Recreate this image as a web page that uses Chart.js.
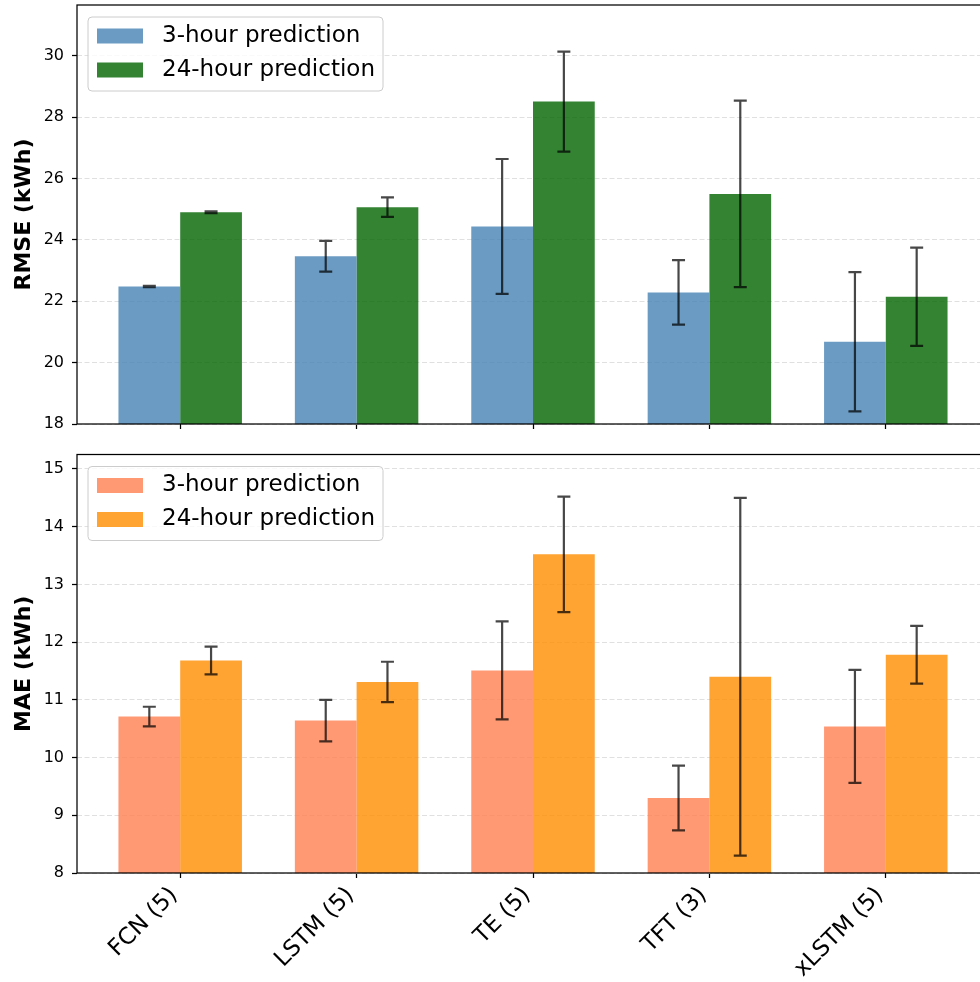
<!DOCTYPE html>
<html>
<head>
<meta charset="utf-8">
<script src="https://cdn.jsdelivr.net/npm/chart.js@4.4.0/dist/chart.umd.min.js"></script>
<style>
html, body { margin: 0; padding: 0; background: #fff; overflow: hidden; }
#wrap { position: relative; width: 1000px; height: 982px; }
canvas { position: absolute; left: 0; }
#rmseChart { top: 0; }
#maeChart { top: 440px; }
</style>
</head>
<body>
<div id="wrap">
<canvas id="rmseChart" width="1000" height="440"></canvas>
<canvas id="maeChart" width="1000" height="542"></canvas>
</div>
<script>
// values
var categories = ['FCN (5)', 'LSTM (5)', 'TE (5)', 'TFT (3)', 'xLSTM (5)'];

var rmse3h = [22.48, 23.47, 24.44, 22.29, 20.68];
var rmse3hErr = [0.02, 0.50, 2.20, 1.05, 2.27];
var rmse24h = [24.90, 25.07, 28.51, 25.50, 22.15];
var rmse24hErr = [0.03, 0.32, 1.63, 3.04, 1.60];

var mae3h = [10.71, 10.64, 11.51, 9.30, 10.54];
var mae3hErr = [0.17, 0.36, 0.85, 0.56, 0.98];
var mae24h = [11.68, 11.31, 13.52, 11.40, 11.78];
var mae24hErr = [0.24, 0.35, 1.00, 3.10, 0.50];

var rmseTicks = [18, 20, 22, 24, 26, 28, 30];
var maeTicks = [8, 9, 10, 11, 12, 13, 14, 15];

Chart.defaults.font.family = "'DejaVu Sans', sans-serif";
Chart.defaults.color = '#000';

function toPoints(vals) {
    return vals.map(function (v, i) { return { x: i, y: v }; });
}

// draws the error bars from each dataset's errors array
var errorBars = {
    id: 'errorBars',
    afterDatasetsDraw: function (chart) {
        var ctx = chart.ctx, yScale = chart.scales.y;
        chart.data.datasets.forEach(function (ds, d) {
            var meta = chart.getDatasetMeta(d);
            meta.data.forEach(function (bar, i) {
                var v = ds.data[i].y, e = ds.errors[i];
                var top = yScale.getPixelForValue(v + e);
                var bot = yScale.getPixelForValue(v - e);
                ctx.save();
                ctx.strokeStyle = 'rgba(0,0,0,0.72)';
                ctx.lineWidth = 2.2;
                ctx.beginPath();
                ctx.moveTo(bar.x, top); ctx.lineTo(bar.x, bot);
                ctx.moveTo(bar.x - 6.5, top); ctx.lineTo(bar.x + 6.5, top);
                ctx.moveTo(bar.x - 6.5, bot); ctx.lineTo(bar.x + 6.5, bot);
                ctx.stroke();
                ctx.restore();
            });
        });
    }
};

// axes frame + legend box in the upper left corner
var frameAndLegend = {
    id: 'frameAndLegend',
    afterDraw: function (chart) {
        var ctx = chart.ctx, a = chart.chartArea;
        ctx.save();
        ctx.strokeStyle = '#000';
        ctx.lineWidth = 1.25;
        ctx.strokeRect(a.left, a.top, a.right - a.left, a.bottom - a.top);

        var x = a.left + 11, y = a.top + 12, w = 295, h = 74, r = 4;
        ctx.beginPath();
        ctx.moveTo(x + r, y);
        ctx.arcTo(x + w, y, x + w, y + h, r);
        ctx.arcTo(x + w, y + h, x, y + h, r);
        ctx.arcTo(x, y + h, x, y, r);
        ctx.arcTo(x, y, x + w, y, r);
        ctx.closePath();
        ctx.fillStyle = 'rgba(255,255,255,0.8)';
        ctx.fill();
        ctx.strokeStyle = '#cccccc';
        ctx.lineWidth = 1;
        ctx.stroke();

        ctx.font = "23px 'DejaVu Sans'";
        ctx.textBaseline = 'middle';
        chart.data.datasets.forEach(function (ds, i) {
            var cy = y + 19 + i * 34;
            ctx.fillStyle = ds.backgroundColor;
            ctx.fillRect(x + 9, cy - 7.5, 46, 15);
            ctx.fillStyle = '#000';
            ctx.fillText(ds.label, x + 74, cy);
        });
        ctx.restore();
    }
};

function makePanel(id, p) {
    return new Chart(document.getElementById(id), {
        type: 'bar',
        data: {
            datasets: [{
                label: '3-hour prediction',
                data: toPoints(p.short),
                errors: p.shortErr,
                backgroundColor: p.colors[0],
                categoryPercentage: 0.7,
                barPercentage: 1.0
            }, {
                label: '24-hour prediction',
                data: toPoints(p.long),
                errors: p.longErr,
                backgroundColor: p.colors[1],
                categoryPercentage: 0.7,
                barPercentage: 1.0
            }]
        },
        options: {
            responsive: false,
            animation: false,
            layout: { padding: { top: p.padTop, right: 11, left: 0, bottom: 0 } },
            plugins: { legend: { display: false }, tooltip: { enabled: false } },
            scales: {
                x: {
                    type: 'linear',
                    min: -0.585,
                    max: 4.585,
                    offset: false,
                    afterBuildTicks: function (s) {
                        s.ticks = categories.map(function (c, i) { return { value: i }; });
                    },
                    afterFit: function (s) {
                        s.height = p.xHeight;
                        s.paddingLeft = 0; s.paddingRight = 0;
                    },
                    ticks: {
                        display: p.showLabels,
                        autoSkip: false,
                        callback: function (v, i) { return categories[i]; },
                        font: { size: 23 },
                        color: '#000',
                        maxRotation: 45,
                        minRotation: 45,
                        labelOffset: -6,
                        padding: 4
                    },
                    grid: {
                        drawOnChartArea: false,
                        offset: false,
                        tickLength: 5,
                        tickColor: '#000',
                        tickWidth: 1.25
                    },
                    border: { display: false }
                },
                y: {
                    min: p.yMin,
                    max: p.yMax,
                    afterBuildTicks: function (s) {
                        s.ticks = p.ticks.map(function (v) { return { value: v }; });
                    },
                    afterFit: function (s) {
                        s.width = 77;
                        s.paddingTop = 0; s.paddingBottom = 0;
                    },
                    ticks: { font: { size: 16 }, color: '#000', padding: 8 },
                    grid: {
                        color: '#e0e0e0',
                        lineWidth: 1,
                        tickLength: 5,
                        tickColor: '#000',
                        tickWidth: 1.25,
                        tickBorderDash: []
                    },
                    border: { display: false, dash: [5, 2.5] },
                    title: {
                        display: true,
                        text: p.title,
                        font: { size: 22, weight: 'bold' },
                        color: '#000',
                        padding: { top: 11, bottom: 0 }
                    }
                }
            }
        },
        plugins: [errorBars, frameAndLegend]
    });
}

makePanel('rmseChart', {
    short: rmse3h, shortErr: rmse3hErr,
    long: rmse24h, longErr: rmse24hErr,
    colors: ['rgba(70,130,180,0.8)', 'rgba(0,100,0,0.8)'],
    yMin: 18, yMax: 31.66, ticks: rmseTicks,
    title: 'RMSE (kWh)',
    padTop: 5, xHeight: 16, showLabels: false
});

makePanel('maeChart', {
    short: mae3h, shortErr: mae3hErr,
    long: mae24h, longErr: mae24hErr,
    colors: ['rgba(255,127,80,0.8)', 'rgba(255,140,0,0.8)'],
    yMin: 8, yMax: 15.25, ticks: maeTicks,
    title: 'MAE (kWh)',
    padTop: 14.5, xHeight: 109, showLabels: true
});
</script>
</body>
</html>
